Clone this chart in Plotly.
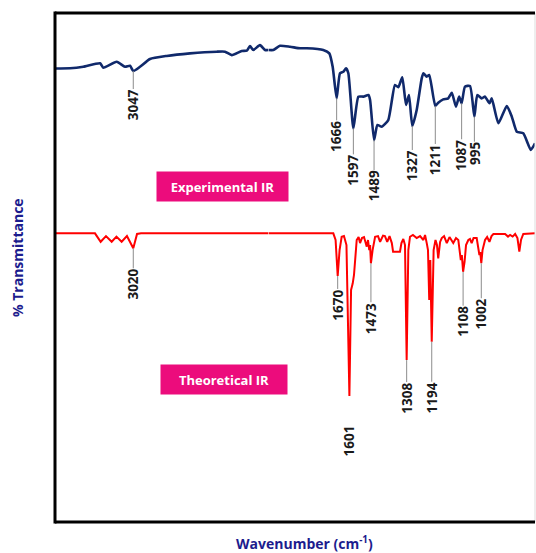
import plotly.graph_objects as go

# ---------------- data ----------------
exp_wn = [3650, 3534, 3431, 3302, 3277, 3173, 3109, 3070, 3045, 2993, 2916, 2787, 2607,
          2400, 2336, 2284, 2207, 2168, 2143, 2117, 2066, 2027, 2000,
          1977, 1945, 1897, 1849, 1817, 1738, 1709, 1693, 1674, 1658, 1642, 1629, 1618,
          1594, 1570, 1546, 1522, 1514, 1495, 1479, 1458, 1427, 1395, 1379, 1360, 1342,
          1328, 1312, 1291, 1267, 1259, 1243, 1231, 1202, 1188, 1164, 1140, 1123, 1103,
          1088, 1076, 1060, 1036, 1015, 1001, 980, 964, 943, 932, 900, 860, 836, 812,
          781, 745, 725]
exp_T = [67.3, 67.4, 68.3, 70.4, 67.8, 71.3, 68.3, 68.9, 65.8, 68.3, 72.9, 74.7, 76.2,
         77.2, 77.2, 75.2, 77.6, 77.8, 80.5, 78.2, 81.1, 78.2, 78.2,
         78.2, 80.7, 80.1, 79.2, 79.2, 78.2, 76.2, 68.3, 49.7, 64.5, 65.4, 67.4, 64.5,
         32.0, 50.7, 50.7, 51.7, 48.7, 25.1, 34.0, 33.0, 36.9, 57.6, 56.2, 62.1, 45.8,
         51.7, 33.4, 42.8, 61.5, 64.5, 62.5, 63.5, 45.2, 47.1, 49.1, 49.7, 53.0, 44.8,
         50.7, 46.8, 56.6, 57.0, 38.9, 51.7, 49.7, 50.7, 46.8, 49.7, 35.0, 45.2, 38.9, 30.0,
         29.1, 19.3, 23.2]

theo_wn = [3650, 3341, 3297, 3256, 3212, 3175, 3135, 3094, 3045, 3016, 2985, 2000,
           1690, 1679, 1669, 1660, 1650, 1639, 1627, 1613, 1605, 1597, 1591, 1578, 1569,
           1562, 1553, 1543, 1530, 1524, 1518, 1514, 1510, 1502, 1490, 1476, 1466, 1452,
           1443, 1432, 1421, 1410, 1404, 1371, 1364, 1355, 1347, 1339, 1331, 1323, 1309,
           1291, 1275, 1259, 1251, 1243, 1237, 1231, 1226, 1219, 1210, 1201, 1194, 1188,
           1179, 1171, 1160, 1147, 1134, 1116, 1103, 1092, 1080, 1075, 1069, 1062, 1055,
           1044, 1036, 1028, 1019, 1004, 998, 991, 987, 982, 976, 964, 954, 943, 933, 924,
           868, 854, 844, 832, 820, 809, 800, 792, 781, 725]
theo_T = [100, 100, 94.8, 98.3, 94.8, 98.0, 94.8, 98.3, 90.8, 99.6, 100, 100,
          100, 95.9, 73.8, 89.7, 97.9, 98.3, 92.8, 0, 65.2, 69.3, 74.4, 95.9, 97.7,
          94.0, 97.1, 97.7, 91.8, 95.9, 89.7, 92.8, 81.6, 89.7, 97.9, 98.3, 94.8, 98.6,
          98.3, 94.8, 98.3, 94.0, 88.7, 88.7, 94.0, 96.5, 92.8, 22.1, 89.7, 97.9, 99,
          97.1, 98.3, 95.9, 99, 94.0, 89.7, 59.0, 83.6, 33.4, 89.7, 95.9, 92.8, 84.6,
          94.7, 97.1, 98.3, 94.0, 97.7, 94.0, 97.1, 95.9, 83.6, 86.7, 76.4, 82.4, 92.8,
          95.9, 96.5, 94.0, 97.1, 97.1, 92.8, 86.7, 88.5, 81.6, 89.7, 95.9, 97.7, 94.8, 98.3, 99.6,
          99.6, 98.0, 99, 98, 99.6, 97.1, 88.7, 95.9, 99.6, 100]

exp_labels = ['3047', '1666', '1597', '1489', '1327', '1211', '1087', '995']
exp_label_wn = [3045, 1674, 1594, 1495, 1312, 1202, 1076, 1015]
theo_labels = ['3020', '1670', '1601', '1473', '1308', '1194', '1108', '1002']
theo_label_wn = [3045, 1669, 1613, 1510, 1339, 1219, 1069, 982]

# ---------------- styling / layout constants ----------------
BREAK = 2000
exp_label_gap = [34, 38, 42, 46, 40, 54, 52, 37]
theo_label_gap = [36, 29, 45, 55, 38, 56, 50, 51]
theo_label_line = [True, True, False, True, True, True, True, True]
EXP_COLOR = '#10296b'
THEO_COLOR = '#ff0000'
TITLE_COLOR = '#1c1c8e'
BOX_COLOR = '#ec0c7c'
FONT = 'Open Sans, Noto Sans, sans-serif'


def split(wn, t):
    left = [(w, v) for w, v in zip(wn, t) if w >= BREAK]
    right = [(w, v) for w, v in zip(wn, t) if w <= BREAK]
    return left, right


fig = go.Figure()
for wn, t, color, width, yax, shape in [(exp_wn, exp_T, EXP_COLOR, 2.6, 'y', 'spline'),
                                         (theo_wn, theo_T, THEO_COLOR, 2.0, 'y2', 'linear')]:
    left, right = split(wn, t)
    for pts, xax in [(left, 'x'), (right, 'x2')]:
        line = dict(color=color, width=width, shape=shape)
        if shape == 'spline':
            line['smoothing'] = 0.5
        fig.add_trace(go.Scatter(
            x=[p[0] for p in pts], y=[p[1] for p in pts], mode='lines',
            line=line, xaxis=xax, yaxis=yax,
            showlegend=False, hoverinfo='skip'))

annotations = []


def add_labels(labels, wns, src_wn, src_t, gaps, yref, lines):
    for lab, w, g, ln in zip(labels, wns, gaps, lines):
        tv = src_t[src_wn.index(w)]
        annotations.append(dict(
            x=w, y=tv, xref='x' if w > BREAK else 'x2', yref=yref,
            text='<b>%s</b>' % lab, textangle=-90, showarrow=True,
            arrowhead=0, arrowwidth=1,
            arrowcolor='#8c8c8c' if ln else 'rgba(0,0,0,0)',
            ax=0, ay=g, standoff=0, borderpad=0,
            font=dict(family=FONT, size=13.5, color='#1a1a1a')))


add_labels(exp_labels, exp_label_wn, exp_wn, exp_T, exp_label_gap, 'y', [True] * 8)
add_labels(theo_labels, theo_label_wn, theo_wn, theo_T, theo_label_gap, 'y2', theo_label_line)

annotations += [
    dict(x=0.349, y=0.6591, xref='paper', yref='paper', text='<b>Experimental IR</b>',
         xanchor='center', yanchor='middle',
         showarrow=False, bgcolor=BOX_COLOR, width=131, height=29, borderpad=0,
         valign='middle', align='center',
         font=dict(family=FONT, size=13, color='white')),
    dict(x=0.352, y=0.2800, xref='paper', yref='paper', text='<b>Theoretical IR</b>',
         xanchor='center', yanchor='middle',
         showarrow=False, bgcolor=BOX_COLOR, width=126, height=29, borderpad=0,
         valign='middle', align='center',
         font=dict(family=FONT, size=13, color='white')),
    dict(x=-0.077, y=0.5187, xref='paper', yref='paper', text='<b>% Transmittance</b>',
         xanchor='center', yanchor='middle',
         textangle=-90, showarrow=False, font=dict(family=FONT, size=14, color=TITLE_COLOR)),
    dict(x=0.519, y=-0.0415, xref='paper', yref='paper',
         text='<b>Wavenumber (cm<sup>-1</sup>)</b>',
         xanchor='center', yanchor='middle',
         showarrow=False, font=dict(family=FONT, size=14, color=TITLE_COLOR)),
]

shapes = [
    dict(type='line', xref='paper', yref='paper', x0=1, x1=1, y0=0, y1=1,
         line=dict(color='#dddddd', width=1)),
    dict(type='line', xref='paper', yref='paper', x0=0, x1=0, y0=-0.003, y1=1.003,
         line=dict(color='black', width=3)),
    dict(type='line', xref='paper', yref='paper', x0=0, x1=1, y0=1, y1=1,
         line=dict(color='black', width=3)),
    dict(type='line', xref='paper', yref='paper', x0=0, x1=1, y0=0, y1=0,
         line=dict(color='black', width=3)),
]

dom = 0.4448
fig.update_layout(
    width=536, height=553, autosize=False,
    margin=dict(l=55, r=1, t=13, b=31),
    paper_bgcolor='white', plot_bgcolor='white',
    xaxis=dict(domain=[0, dom], range=[3650, BREAK], visible=False, anchor='y'),
    xaxis2=dict(domain=[dom, 1], range=[BREAK, 725], visible=False, anchor='y'),
    yaxis=dict(domain=[0, 1], range=[-200, 100], visible=False),
    yaxis2=dict(overlaying='y', range=[-77.4, 235.4], visible=False),
    annotations=annotations, shapes=shapes,
    font=dict(family=FONT),
)

fig.write_html('out.html', config={'displayModeBar': False},
               post_script="document.body.style.margin='0';"
                           "document.body.style.overflow='hidden';")
